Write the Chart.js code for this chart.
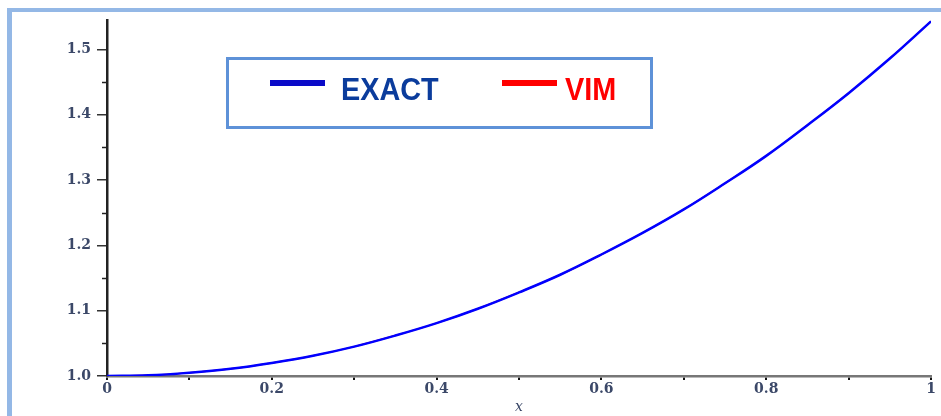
<!DOCTYPE html>
<html>
<head>
<meta charset="utf-8">
<script src="https://cdn.jsdelivr.net/npm/chart.js@4.4.0/dist/chart.umd.min.js"></script>
<style>
  html, body { margin: 0; padding: 0; background: #fff; }
  #wrap { position: relative; width: 941px; height: 416px; overflow: hidden; }
  #frame { position: absolute; left: 7px; top: 8px; width: 960px; height: 440px;
           border-left: 5px solid #94b8e6; border-top: 4px solid #94b8e6; }
  canvas { position: absolute; left: 0; top: 0; }
</style>
</head>
<body>
<div id="wrap">
  <div id="frame"></div>
  <canvas id="plot" width="941" height="416"></canvas>
</div>
<script>
// x 값 (0 ~ 1, 0.05 간격)
const xValues = [0, 0.05, 0.1, 0.15, 0.2, 0.25, 0.3, 0.35, 0.4, 0.45, 0.5,
                 0.55, 0.6, 0.65, 0.7, 0.75, 0.8, 0.85, 0.9, 0.95, 1];
// 정확해
const exactValues = [1.000, 1.001, 1.005, 1.011, 1.020, 1.031, 1.045, 1.062, 1.081, 1.103, 1.128,
                     1.155, 1.186, 1.219, 1.255, 1.295, 1.337, 1.384, 1.433, 1.486, 1.543];
// VIM 근사해 (정확해와 겹침)
const vimValues = [1.000, 1.001, 1.005, 1.011, 1.020, 1.031, 1.045, 1.062, 1.081, 1.103, 1.128,
                   1.155, 1.186, 1.219, 1.255, 1.295, 1.337, 1.384, 1.433, 1.486, 1.543];
const yTickLabels = ['1.0', '1.1', '1.2', '1.3', '1.4', '1.5'];
const xTickLabels = ['0', '0.2', '0.4', '0.6', '0.8', '1'];
const seriesNames = ['EXACT', 'VIM'];

const tickFont = { family: 'DejaVu Serif', size: 14, weight: 'bold' };
const tickColor = '#3b4868';

// 범례 박스 그리기
const legendBox = {
    id: 'legendBox',
    afterDraw(chart) {
        const ctx = chart.ctx;
        ctx.save();
        ctx.fillStyle = '#fff';
        ctx.fillRect(226, 57, 427, 72);
        ctx.strokeStyle = '#5e92d8';
        ctx.lineWidth = 3;
        ctx.strokeRect(227.5, 58.5, 424, 69);

        const items = [
            { line: '#0a0ac8', text: '#0b3c9c', x: 270, tx: 341 },
            { line: '#ff0000', text: '#ff0000', x: 502, tx: 565 }
        ];
        ctx.textBaseline = 'alphabetic';
        items.forEach((it, i) => {
            ctx.fillStyle = it.line;
            ctx.fillRect(it.x, 80, 55, 6);
            ctx.save();
            ctx.translate(it.tx, 100);
            ctx.scale(0.93, 1);
            ctx.font = 'bold 31px "Liberation Sans", sans-serif';
            ctx.fillStyle = it.text;
            ctx.fillText(seriesNames[i], 0, 0);
            ctx.restore();
        });
        ctx.restore();
    }
};

// 보조 눈금
const minorTicks = {
    id: 'minorTicks',
    afterDraw(chart) {
        const ctx = chart.ctx;
        const ys = chart.scales.y;
        const xs = chart.scales.x;
        ctx.save();
        ctx.strokeStyle = '#222';
        ctx.lineWidth = 1.5;
        for (let v = 1.05; v < 1.55; v += 0.1) {
            const py = Math.round(ys.getPixelForValue(v)) + 0.5;
            ctx.beginPath();
            ctx.moveTo(xs.left - 5, py);
            ctx.lineTo(xs.left, py);
            ctx.stroke();
        }
        ctx.restore();
    }
};

const ctx = document.getElementById('plot').getContext('2d');
new Chart(ctx, {
    type: 'line',
    data: {
        datasets: [{
            label: seriesNames[0],
            data: xValues.map((x, i) => ({ x: x, y: exactValues[i] })),
            borderColor: '#0000ff',
            borderWidth: 2.5,
            pointRadius: 0,
            tension: 0.4,
            order: 0
        }, {
            label: seriesNames[1],
            data: xValues.map((x, i) => ({ x: x, y: vimValues[i] })),
            borderColor: '#ff0000',
            borderWidth: 1.5,
            pointRadius: 0,
            tension: 0.4,
            order: 1
        }]
    },
    options: {
        responsive: false,
        animation: false,
        layout: { padding: { top: 20, right: 10, left: 0, bottom: 0 } },
        plugins: { legend: { display: false }, tooltip: { enabled: false } },
        scales: {
            x: {
                type: 'linear',
                min: 0,
                max: 1,
                afterFit(scale) { scale.height = 40; },
                afterBuildTicks(scale) {
                    scale.ticks = xValues.filter((v, i) => i % 2 === 0).map(v => ({ value: v }));
                },
                border: { color: '#777', width: 2.5 },
                grid: { drawOnChartArea: false, tickLength: 4, color: '#111', lineWidth: 2 },
                ticks: {
                    font: tickFont,
                    color: tickColor,
                    padding: 1,
                    maxRotation: 0,
                    autoSkip: false,
                    callback: (v) => {
                        const k = Math.round(v * 10);
                        return k % 2 === 0 ? xTickLabels[k / 2] : '';
                    }
                },
                title: {
                    display: true,
                    text: 'x',
                    font: { family: 'DejaVu Serif', size: 14, style: 'italic' },
                    color: '#3b4868',
                    padding: { top: 0, bottom: 0 }
                }
            },
            y: {
                type: 'linear',
                min: 1.0,
                max: 1.545,
                afterFit(scale) { scale.width = 107; },
                afterBuildTicks(scale) {
                    scale.ticks = yTickLabels.map(t => ({ value: parseFloat(t) }));
                },
                border: { color: '#222', width: 2.5 },
                grid: { drawOnChartArea: false, tickLength: 10, color: '#333', lineWidth: 1.5 },
                ticks: {
                    font: tickFont,
                    color: tickColor,
                    padding: 6,
                    callback: (v, i) => yTickLabels[i]
                }
            }
        }
    },
    plugins: [minorTicks, legendBox]
});
</script>
</body>
</html>
